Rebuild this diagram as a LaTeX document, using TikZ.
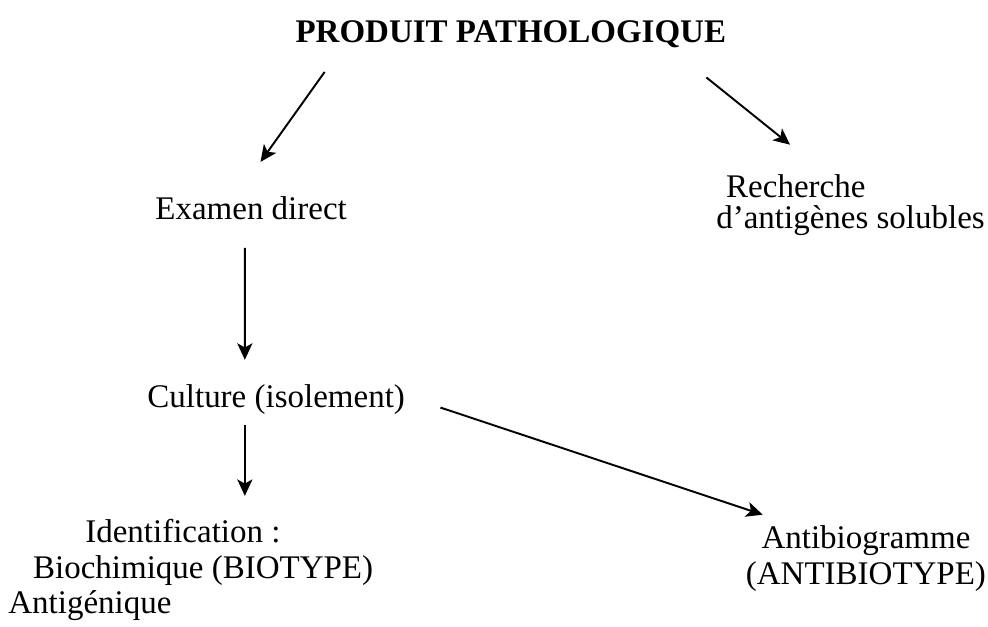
\documentclass[tikz,border=0pt]{standalone}
\usepackage{fontspec}
\setmainfont{Liberation Serif}
\usetikzlibrary{arrows.meta}
\tikzset{
  lbl/.style={inner sep=0pt,font=\fontsize{12}{13}\selectfont},
  arr/.style={-{Stealth[length=6pt,width=5.5pt,inset=1.5pt]},line width=0.7pt}
}
\begin{document}
\begin{tikzpicture}[scale=1.0]
\useasboundingbox (0,0) rectangle (12.63,-8.01);
\node[lbl,anchor=base,font=\fontsize{12}{13}\selectfont\bfseries] (produit) at (6.53,-0.54) {PRODUIT PATHOLOGIQUE};
\node[lbl,anchor=base] (examen) at (3.21,-2.81) {Examen direct};
\node[lbl,anchor=base] (culture) at (3.53,-5.21) {Culture (isolement)};
\node[lbl,anchor=north west,align=left,font=\fontsize{12}{11.5}\selectfont] (antigenes) at (9.15,-2.22)
  {\hspace*{3.6pt}Recherche\\d’antigènes solubles};
\node[lbl,anchor=north west,align=left] (ident) at (0.10,-6.63)
  {\hspace*{28pt}Identification :\\\hspace*{9pt}Biochimique (BIOTYPE)\\Antigénique};
\node[lbl,anchor=north,align=center] (antibio) at (11.07,-6.71)
  {Antibiogramme\\(ANTIBIOTYPE)};
% arrows
\draw[arr] ([shift={(-2.38,-0.38)}]produit.base) -- ([shift={(0.12,0.74)}]examen.base);
\draw[arr] ([shift={(2.50,-0.45)}]produit.base) -- ([shift={(0.95,0.37)}]antigenes.north west);
\draw[arr] ([shift={(-0.08,-0.36)}]examen.base) -- ([shift={(-0.40,0.61)}]culture.base);
\draw[arr] ([shift={(-0.40,-0.22)}]culture.base) -- ([shift={(3.03,0.29)}]ident.north west);
\draw[arr] ([shift={(2.10,0)}]culture.base) -- ([shift={(-1.32,0.13)}]antibio.north);
\end{tikzpicture}
\end{document}
